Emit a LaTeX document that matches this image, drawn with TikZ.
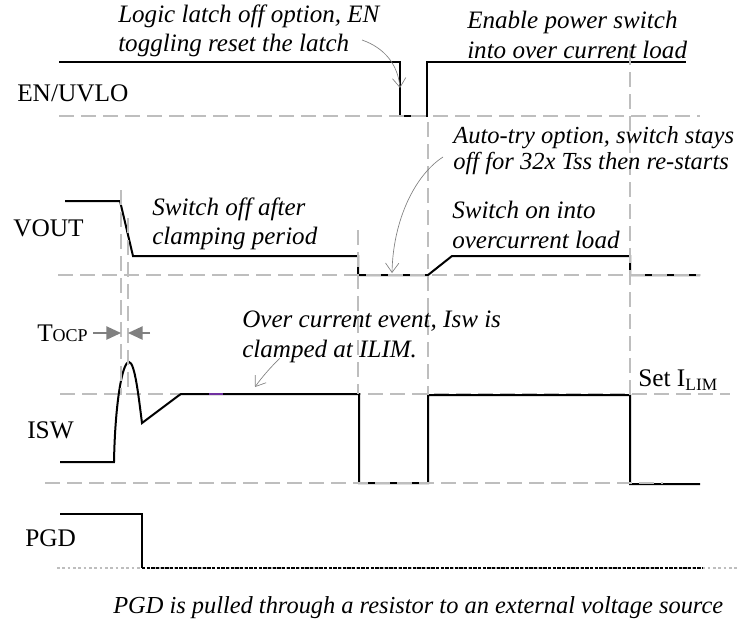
\documentclass[tikz,border=0pt]{standalone}
\usepackage{fontspec}
\setmainfont{Liberation Serif}
\usetikzlibrary{arrows.meta}
\definecolor{gridgray}{RGB}{190,190,190}
\definecolor{annogray}{RGB}{128,128,128}
\definecolor{markpurple}{RGB}{112,48,160}
\tikzset{
  wave/.style={line width=1.5pt, black, line join=miter},
  gridline/.style={gridgray, line width=1.1pt, dash pattern=on 11pt off 5.5pt},
  anno/.style={annogray, line width=0.5pt, -{Straight Barb[length=7pt,width=10pt]}},
  tarrow/.style={annogray, line width=1.1pt, -{Triangle[length=11pt,width=10pt]}},
  lbl/.style={font=\fontsize{19}{22}\selectfont, anchor=west, inner sep=0pt},
  note/.style={font=\fontsize{18.8}{22}\selectfont\itshape, anchor=west, align=left, inner sep=0pt},
}
\begin{document}
\begin{tikzpicture}[x=0.75pt,y=-0.75pt]
\useasboundingbox (0,0) rectangle (737,622);

% ISW high reference (under waveform)
\draw[gridline] (60,394) -- (730,394);

% waveforms
\draw[wave] (59,62) -- (400,62) -- (400,116) -- (427,116) -- (427,62) -- (686,62);
\draw[wave] (65,201) -- (120,201) -- (133,256) -- (358,256) -- (358,275) -- (428,275)
  -- (452,256) -- (630,256) -- (630,275) -- (700,275);
\draw[wave] (60,462) -- (114,462) .. controls (115,405) and (122,362) .. (129,362)
  .. controls (135,362) and (139,400) .. (142,423) -- (178,396) -- (181,394)
  -- (359,394) -- (359,483) -- (428,483) -- (428,395) -- (630,395) -- (630,484) -- (700,484);
\draw[markpurple, line width=1.5pt] (209,394) -- (223,394);
\draw[wave] (60,514) -- (142,514) -- (142,568);

% grid lines
\draw[gridline] (59,116) -- (700,116);
\draw[gridline] (58,275) -- (700,275);
\draw[gridline] (45,483) -- (663,483);
\draw[gridline] (121,190) -- (121,395);
\draw[gridline] (128,218) -- (128,395);
\draw[gridline] (358,230) -- (358,394);
\draw[gridline] (428,122) -- (428,395);
\draw[gridline] (630,50) -- (630,395);
\draw[gridgray, line width=1.1pt, dash pattern=on 2pt off 2pt] (57,568) -- (737,568);
\draw[black, line width=1.1pt, dash pattern=on 2.5pt off 1pt] (142,568) -- (703,568);

% labels
\node[lbl] (en) at (17,93) {EN/UVLO};
\node[lbl] (vout) at (13,228) {VOUT};
\node[lbl] (isw) at (27,430) {ISW};
\node[lbl] (pgd) at (25,538) {PGD};
\node[lbl] (tocp) at (37,333) {T{\fontsize{13.5}{13.5}\selectfont OCP}};
\node[lbl] (ilim) at (638,380) {Set I\raisebox{-0.35ex}{\fontsize{13}{13}\selectfont LIM}};

% notes
\node[note] (n1) at (118,31) {Logic latch off option, EN\\toggling reset the latch};
\node[note] (n2) at (467,35) {Enable power switch\\into over current load};
\node[note, font=\fontsize{18.4}{19.5}\selectfont\itshape] (n3) at (453,151) {Auto-try option, switch stays\\off for 32x Tss then re-starts};
\node[note] (n4) at (152,224) {Switch off after\\clamping period};
\node[note] (n5) at (452,225) {Switch on into\\overcurrent load};
\node[note] (n6) at (242,337) {Over current event, Isw is\\clamped at ILIM.};
\node[note, font=\fontsize{18.3}{22}\selectfont\itshape] (n7) at (113,608) {PGD is pulled through a resistor to an external voltage source};

% annotation arrows
\coordinate (a1s) at (362,40);   \coordinate (a1e) at (400,88);
\coordinate (a2s) at (443,157);  \coordinate (a2e) at (392,273);
\coordinate (a3s) at (280,358);  \coordinate (a3e) at (255,387);
\draw[anno] (a1s) .. controls (385,48) and (398,65) .. (a1e);
\draw[anno] (a2s) .. controls (415,175) and (393,220) .. (a2e);
\draw[anno] (a3s) .. controls (270,368) and (262,377) .. (a3e);

% Tocp arrows
\coordinate (t1s) at (93,333);  \coordinate (t1e) at (121,333);
\coordinate (t2s) at (150,333); \coordinate (t2e) at (128,333);
\draw[tarrow] (t1s) -- (t1e);
\draw[tarrow] (t2s) -- (t2e);
\end{tikzpicture}
\end{document}
